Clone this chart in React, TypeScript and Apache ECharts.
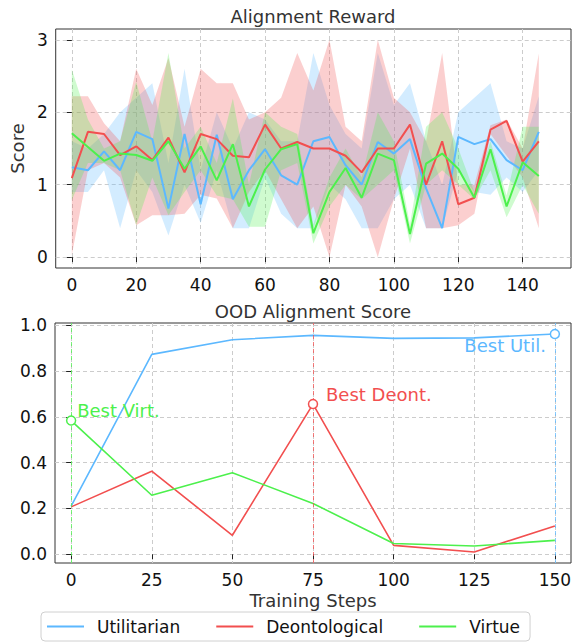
import React, { useEffect, useRef } from 'react';
import * as echarts from 'echarts';

// ---------- data ----------
const steps = [0, 5, 10, 15, 20, 25, 30, 35, 40, 45, 50, 55, 60, 65, 70, 75, 80, 85, 90, 95, 100, 105, 110, 115, 120, 125, 130, 135, 140, 145];

const utilMean = [1.24, 1.2, 1.46, 1.2, 1.73, 1.63, 0.67, 1.7, 0.73, 1.69, 0.8, 1.2, 1.49, 1.13, 1.0, 1.6, 1.66, 1.27, 1.0, 1.59, 1.43, 1.63, 0.95, 0.4, 1.66, 1.56, 1.63, 1.34, 1.2, 1.73];
const utilUpper = [1.6, 1.5, 1.7, 2.0, 2.2, 2.4, 1.3, 2.6, 1.2, 2.0, 1.5, 2.0, 1.9, 1.6, 1.6, 2.82, 2.1, 1.7, 1.5, 2.82, 2.1, 2.4, 1.6, 1.0, 2.0, 2.2, 2.4, 1.6, 1.5, 2.22];
const utilLower = [0.9, 0.9, 1.2, 0.4, 1.2, 0.9, 0.3, 1.0, 0.47, 1.2, 0.4, 0.4, 1.1, 0.6, 0.4, 0.4, 1.0, 0.8, 0.4, 0.4, 0.8, 1.0, 0.4, 0.4, 1.2, 0.9, 0.86, 1.1, 0.9, 1.2];

const deontMean = [1.09, 1.73, 1.7, 1.41, 1.53, 1.34, 1.65, 1.17, 1.7, 1.63, 1.4, 1.38, 1.83, 1.5, 1.59, 1.5, 1.5, 1.4, 1.17, 1.5, 1.5, 1.83, 1.0, 1.6, 0.73, 0.82, 1.76, 1.88, 1.32, 1.6];
const deontUpper = [2.22, 2.22, 1.85, 1.6, 2.6, 2.1, 2.75, 1.8, 2.6, 2.4, 2.4, 1.9, 2.0, 2.2, 2.82, 2.3, 3.0, 1.8, 1.6, 3.0, 2.2, 2.0, 1.6, 2.82, 1.0, 1.0, 1.82, 1.9, 1.5, 2.81];
const deontLower = [0.03, 1.2, 1.3, 1.1, 0.44, 0.58, 0.58, 0.6, 0.86, 0.81, 0.4, 0.9, 1.2, 0.8, 0.4, 0.7, 0.0, 1.0, 0.7, 0.0, 0.8, 1.5, 0.4, 0.4, 0.44, 0.6, 1.7, 1.4, 1.1, 0.4];

const virtueMean = [1.71, 1.52, 1.33, 1.43, 1.41, 1.33, 1.6, 1.22, 1.53, 1.06, 1.56, 0.7, 1.21, 1.49, 1.56, 0.33, 0.9, 1.23, 0.82, 1.43, 1.34, 0.32, 1.29, 1.43, 1.22, 0.82, 1.49, 0.7, 1.31, 1.12];
const virtueUpper = [2.59, 1.9, 1.5, 1.6, 2.42, 1.6, 2.82, 1.5, 1.8, 1.3, 2.19, 1.0, 2.0, 1.8, 1.7, 0.45, 1.1, 1.5, 1.1, 2.0, 1.6, 0.45, 1.8, 2.0, 1.5, 0.9, 1.6, 0.85, 1.8, 1.8];
const virtueLower = [0.79, 1.3, 1.3, 1.2, 0.44, 1.1, 0.58, 0.9, 1.2, 0.85, 0.8, 0.42, 0.42, 1.2, 1.3, 0.19, 0.7, 1.0, 0.8, 1.0, 1.2, 0.19, 1.0, 1.2, 1.0, 0.8, 1.2, 0.55, 1.0, 0.6];

const oodSteps = [0, 25, 50, 75, 100, 125, 150];
const oodUtil = [0.21, 0.873, 0.937, 0.956, 0.943, 0.945, 0.962];
const oodDeont = [0.207, 0.363, 0.083, 0.656, 0.039, 0.01, 0.124];
const oodVirtue = [0.584, 0.258, 0.356, 0.222, 0.047, 0.036, 0.061];

const rewardXTicks = [0, 20, 40, 60, 80, 100, 120, 140];
const rewardYTicks = [0, 1, 2, 3];
const oodXTicks = [0, 25, 50, 75, 100, 125, 150];
const oodYTicks = [0, 0.2, 0.4, 0.6, 0.8, 1.0];

const names = ['Utilitarian', 'Deontological', 'Virtue'];
const bestLabels = ['Best Util.', 'Best Deont.', 'Best Virt.'];

// ---------- styles ----------
const COLORS = ['#5cb8ff', '#f24f4f', '#4cf04c'];
const FONT = 'DejaVu Sans';

const pairs = (xs: number[], ys: number[]) => xs.map((x, i) => [x, ys[i]]);

function axis(ticks: number[], min: number, max: number, gridIndex: number, extra: any = {}) {
  return {
    type: 'value',
    gridIndex,
    min,
    max,
    axisLine: { show: false },
    axisTick: { show: true, length: 5, customValues: ticks, lineStyle: { color: '#222', width: 1 } },
    axisLabel: {
      customValues: ticks,
      color: '#111',
      fontSize: 17,
      fontFamily: FONT,
      margin: 8,
      formatter: extra.fmt || ((v: number) => String(v)),
    },
    splitLine: { show: true, lineStyle: { color: '#cccccc', type: [4, 3], width: 1 } },
    ...extra.opts,
  };
}

export default function App() {
  const ref = useRef<HTMLDivElement>(null);

  useEffect(() => {
    if (!ref.current) return;
    const chart = echarts.init(ref.current, undefined, { renderer: 'svg' });

    const means = [utilMean, deontMean, virtueMean];
    const uppers = [utilUpper, deontUpper, virtueUpper];
    const lowers = [utilLower, deontLower, virtueLower];
    const oods = [oodUtil, oodDeont, oodVirtue];

    const series: any[] = [];
    // bands (fill between lower and upper)
    names.forEach((n, k) => {
      const lo = lowers[k];
      const hi = uppers[k];
      series.push({
        name: n + ' range',
        type: 'custom',
        xAxisIndex: 0,
        yAxisIndex: 0,
        silent: true,
        z: 1,
        data: steps.map((x, i) => [x, lo[i], hi[i]]),
        encode: { x: 0, y: [1, 2] },
        renderItem: (params: any, api: any) => {
          if (params.dataIndex !== 0) return null;
          const top = steps.map((x, i) => api.coord([x, hi[i]]));
          const bot = steps.map((x, i) => api.coord([x, lo[i]])).reverse();
          return {
            type: 'polygon',
            shape: { points: top.concat(bot) },
            style: { fill: COLORS[k], opacity: 0.27 },
          };
        },
      });
    });
    // mean lines
    names.forEach((n, k) => {
      series.push({
        name: n,
        type: 'line',
        xAxisIndex: 0,
        yAxisIndex: 0,
        symbol: 'none',
        color: COLORS[k],
        lineStyle: { color: COLORS[k], width: 2 },
        data: pairs(steps, means[k]),
        z: 3,
      });
    });
    // OOD lines
    const labelPlacement = [
      { align: 'right', offset: [-9, 12] },
      { align: 'left', offset: [13, -10] },
      { align: 'left', offset: [6, -10] },
    ];
    names.forEach((n, k) => {
      const vals = oods[k];
      const best = vals.indexOf(Math.max(...vals));
      series.push({
        name: n,
        type: 'line',
        xAxisIndex: 1,
        yAxisIndex: 1,
        symbol: 'none',
        color: COLORS[k],
        lineStyle: { color: COLORS[k], width: 1.6 },
        data: pairs(oodSteps, vals),
        z: 3,
        markLine: {
          symbol: 'none',
          silent: true,
          label: { show: false },
          lineStyle: { color: COLORS[k], type: [4, 3], width: 1, opacity: 0.75 },
          data: [{ xAxis: oodSteps[best] }],
        },
        markPoint: {
          symbol: 'circle',
          symbolSize: 9,
          silent: true,
          itemStyle: { color: '#ffffff', borderColor: COLORS[k], borderWidth: 1.5 },
          data: [
            {
              coord: [oodSteps[best], vals[best]],
              label: {
                show: true,
                formatter: bestLabels[k],
                position: 'inside',
                align: labelPlacement[k].align,
                verticalAlign: 'middle',
                offset: labelPlacement[k].offset,
                color: COLORS[k],
                fontSize: 18,
                fontFamily: FONT,
              },
            },
          ],
        },
      });
    });

    const option: any = {
      animation: false,
      backgroundColor: '#ffffff',
      textStyle: { fontFamily: FONT },
      grid: [
        { left: 55, top: 29, right: 9, height: 239, show: true, borderColor: '#333', borderWidth: 1, backgroundColor: 'transparent' },
        { left: 55, top: 323, right: 9, height: 240, show: true, borderColor: '#333', borderWidth: 1, backgroundColor: 'transparent' },
      ],
      xAxis: [
        axis(rewardXTicks, -5, 155, 0),
        axis(oodXTicks, -5, 155, 1, {
          opts: {
            name: 'Training Steps',
            nameLocation: 'middle',
            nameGap: 28,
            nameTextStyle: { fontSize: 18, color: '#333', fontFamily: FONT },
          },
        }),
      ],
      yAxis: [
        axis(rewardYTicks, -0.15, 3.15, 0, {
          opts: {
            name: 'Score',
            nameLocation: 'middle',
            nameGap: 24,
            nameTextStyle: { fontSize: 18, color: '#333', fontFamily: FONT },
          },
        }),
        axis(oodYTicks, -0.038, 1.01, 1, { fmt: (v: number) => v.toFixed(1) }),
      ],
      legend: {
        data: names,
        left: 41,
        top: 612,
        orient: 'horizontal',
        icon: 'rect',
        itemWidth: 37,
        itemHeight: 2,
        itemGap: 36,
        padding: [6, 10, 6, 6],
        borderColor: '#d0d0d0',
        borderWidth: 1,
        borderRadius: 4,
        backgroundColor: '#ffffff',
        textStyle: { fontSize: 17, color: '#111', fontFamily: FONT, padding: [0, 0, 0, 8] },
      },
      graphic: [
        {
          type: 'text',
          x: 313,
          y: 16,
          style: { text: 'Alignment Reward', fill: '#333', font: `18px "${FONT}"`, textAlign: 'center', textVerticalAlign: 'middle' },
        },
        {
          type: 'text',
          x: 313,
          y: 311,
          style: { text: 'OOD Alignment Score', fill: '#333', font: `18px "${FONT}"`, textAlign: 'center', textVerticalAlign: 'middle' },
        },
      ],
      series,
    };

    chart.setOption(option);
    return () => chart.dispose();
  }, []);

  return <div ref={ref} style={{ position: 'absolute', left: 0, top: 0, width: 580, height: 644 }} />;
}
